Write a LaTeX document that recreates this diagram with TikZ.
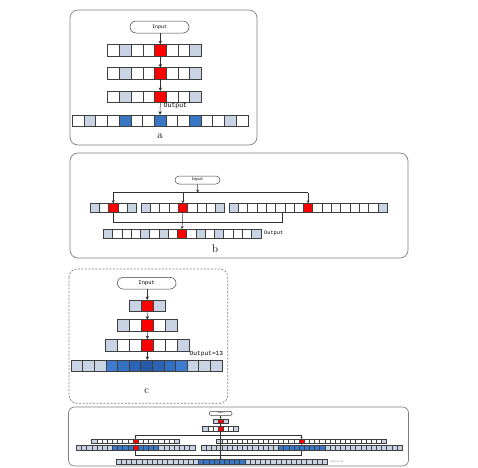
\documentclass[tikz,border=0pt]{standalone}
\usepackage{fontspec}
\setmonofont{Liberation Mono}
\usetikzlibrary{arrows.meta,calc}
\definecolor{W}{HTML}{FFFFFF}
\definecolor{G}{HTML}{C8D3E3}
\definecolor{R}{HTML}{FF0000}
\definecolor{B}{HTML}{3A76C6}
\definecolor{SA}{HTML}{3C7BCF}
\definecolor{SB}{HTML}{3370C2}
\definecolor{SC}{HTML}{2C64B3}
\definecolor{SD}{HTML}{2659A6}
\definecolor{cellline}{HTML}{3F3F3F}
\definecolor{framecol}{HTML}{7F7F7F}
\definecolor{conn}{HTML}{303030}
\tikzset{
  cellbox/.style={rectangle, draw=cellline, line width=0.45pt, inner sep=0pt, outer sep=0pt},
  inbox/.style={draw=cellline, line width=0.5pt, rounded corners=#1, inner sep=0pt, font=\ttfamily},
  panel/.style={draw=framecol, line width=0.7pt, rounded corners=#1},
  arr/.style={draw=conn, line width=0.5pt, -{Stealth[length=#1,width=#1]}},
  link/.style={draw=conn, line width=0.5pt},
  lbl/.style={inner sep=0pt, font=\fontsize{11}{11}\selectfont},
  outtxt/.style={inner sep=0pt, anchor=west, font=\ttfamily\fontsize{#1}{#1}\selectfont}
}
\newcommand\cellrow[8]{%
  \foreach \i in {1,...,#6}{\node[cellbox, minimum width=#4pt, minimum height=#5pt, fill=#7] (#1-\i) at ({#2+(\i-0.5)*#4},#3) {};}%
  \foreach \j/\col in {#8}{\path[cellbox, fill=\col] (#1-\j.south west) rectangle (#1-\j.north east);}%
}
\begin{document}
\begin{tikzpicture}[x=1pt,y=-1pt]
\useasboundingbox (0,0) rectangle (478,467);
% ---------------- panel a
\draw[panel=8pt] (70,10) rectangle (257,145);
\node[inbox=6pt, minimum width=59pt, minimum height=12pt, font=\ttfamily\fontsize{5}{5}\selectfont] (aIn) at (159.5,27) {Input};
\cellrow{a1}{107.7}{50}{11.7}{11.5}{8}{W}{2/G,5/R,8/G}
\cellrow{a2}{107.7}{73.3}{11.7}{11.5}{8}{W}{2/G,5/R,8/G}
\cellrow{a3}{107.7}{96.7}{11.7}{11.5}{8}{W}{2/G,5/R,8/G}
\cellrow{aO}{72.3}{120.5}{11.7}{11.5}{15}{W}{2/G,5/B,8/B,11/B,14/G}
\draw[arr=3.5pt] (aIn.south -| a1-5.north) -- (a1-5.north);
\draw[arr=3.5pt] (a1-5.south) -- (a2-5.north);
\draw[arr=3.5pt] (a2-5.south) -- (a3-5.north);
\draw[arr=3.5pt] (a3-5.south) -- (aO-8.north);
\node[outtxt=6.5] (aOut) at (163.5,105.5) {Output};
\node[lbl] (aLab) at (160,136) {a};
% ---------------- panel b
\draw[panel=8pt] (70,153) rectangle (408,258);
\node[inbox=4pt, minimum width=45pt, minimum height=8pt, font=\ttfamily\fontsize{4}{4}\selectfont] (bIn) at (197.5,180) {Input};
\cellrow{b1a}{90}{208}{9.3}{9.4}{5}{W}{1/G,3/R,5/G}
\cellrow{b1b}{141}{208}{9.3}{9.4}{9}{W}{1/G,5/R,9/G}
\cellrow{b1c}{229}{208}{9.3}{9.4}{17}{W}{1/G,9/R,17/G}
\cellrow{bO}{103.3}{233.7}{9.26}{9.4}{17}{W}{1/G,5/G,7/G,9/R,11/G,13/G,17/G}
\coordinate (bbar) at (197.7,192.7);
\coordinate (bbar2) at (0,222.7);
\draw[arr=3pt] (bIn.south) -- (bbar);
\draw[link] (b1a-3.north |- bbar) -- (b1c-9.north |- bbar);
\draw[arr=3pt] (b1a-3.north |- bbar) -- (b1a-3.north);
\draw[arr=3pt] (b1b-5.north |- bbar) -- (b1b-5.north);
\draw[arr=3pt] (b1c-9.north |- bbar) -- (b1c-9.north);
\draw[link] (b1a-3.south) |- ($(b1c-6.south |- bbar2)+(2,0)$) -- ($(b1c-6.south)+(2,0)$);
\draw[arr=3pt] (b1b-5.south) -- (bO-9.north);
\node[outtxt=5.3] (bOut) at (264,233.7) {Output};
\node[lbl] (bLab) at (215,249) {b};
% ---------------- panel c
\draw[panel=8pt, dash pattern=on 2pt off 1.5pt] (69,269) rectangle (227.7,403.3);
\node[inbox=6pt, minimum width=58.7pt, minimum height=11.7pt, font=\ttfamily\fontsize{5.5}{5.5}\selectfont] (cIn) at (146.7,283.2) {Input};
\cellrow{c1}{129.3}{305.8}{11.9}{11.7}{3}{W}{1/G,2/R,3/G}
\cellrow{c2}{117.7}{325.5}{11.9}{11.7}{5}{W}{1/G,3/R,5/G}
\cellrow{c3}{105.7}{345}{11.9}{11.7}{7}{W}{1/G,4/R,7/G}
\cellrow{cO}{71}{365.8}{11.6}{11.7}{13}{G}{4/SA,5/SB,6/SC,7/SD,8/SC,9/SB,10/SA}
\draw[arr=3.5pt] (cIn.south -| c1-2.north) -- (c1-2.north);
\draw[arr=3.5pt] (c1-2.south) -- (c2-3.north);
\draw[arr=3.5pt] (c2-3.south) -- (c3-4.north);
\draw[arr=3.5pt] (c3-4.south) -- (c3-4.south |- cO-7.north);
\node[outtxt=6.2] (cOut) at (189.5,354.5) {Output=13};
\node[lbl] (cLab) at (146.7,391) {c};
% ---------------- panel d
\draw[panel=6pt] (68.5,407) rectangle (408.5,466);
\node[inbox=2pt, minimum width=22.7pt, minimum height=4.2pt, font=\ttfamily\fontsize{2}{2}\selectfont] (dIn) at (220.7,413.4) {Input};
\cellrow{d1}{212.9}{421.2}{5.15}{4.5}{3}{W}{1/G,2/R,3/G}
\cellrow{d2}{202.6}{429}{5.15}{4.6}{7}{W}{1/G,4/R,7/G}
\cellrow{d3a}{91.7}{441.3}{5.15}{4.7}{17}{W}{1/G,9/R,17/G}
\cellrow{d3b}{216.6}{441.3}{5.15}{4.7}{33}{W}{1/G,17/R,33/G}
\cellrow{d4a}{76.3}{448.2}{5.15}{5}{23}{G}{8/B,9/B,10/B,11/B,12/R,13/B,14/B,15/B,16/B}
\cellrow{d4b}{201.2}{448.2}{5.15}{5}{39}{G}{16/B,17/B,18/B,19/B,20/B,21/B,22/B,23/B,24/B}
\cellrow{d5}{116.1}{462.2}{5.15}{5}{41}{G}{17/B,18/B,19/B,20/B,21/B,22/B,23/B,24/B,25/B}
\coordinate (dbar1) at (0,434.7);
\coordinate (dbar2) at (0,455.3);
\draw[arr=1.8pt] (dIn.south -| d1-2.north) -- (d1-2.north);
\draw[arr=1.8pt] (d1-2.south) -- (d2-4.north);
\draw[arr=1.8pt] (d2-4.south) -- (d2-4.south |- d5-21.north);
\draw[link, line width=0.4pt] (d3a-9.north |- dbar1) -- (d3b-17.north |- dbar1);
\draw[arr=1.8pt, line width=0.4pt] (d3a-9.north |- dbar1) -- (d3a-9.north);
\draw[arr=1.8pt, line width=0.4pt] (d3b-17.north |- dbar1) -- (d3b-17.north);
\draw[link, line width=0.4pt] (d3a-9.south) -- (d4a-12.north);
\draw[link, line width=0.4pt] (d4a-12.south) |- (d4b-20.south |- dbar2) -- (d4b-20.south);
\draw[link, line width=0.4pt] (d3b-17.south) -- (d4b-20.north);
\node[outtxt=2.5, text=framecol] (dOut) at (330,462.2) {Output=41};
\end{tikzpicture}
\end{document}
